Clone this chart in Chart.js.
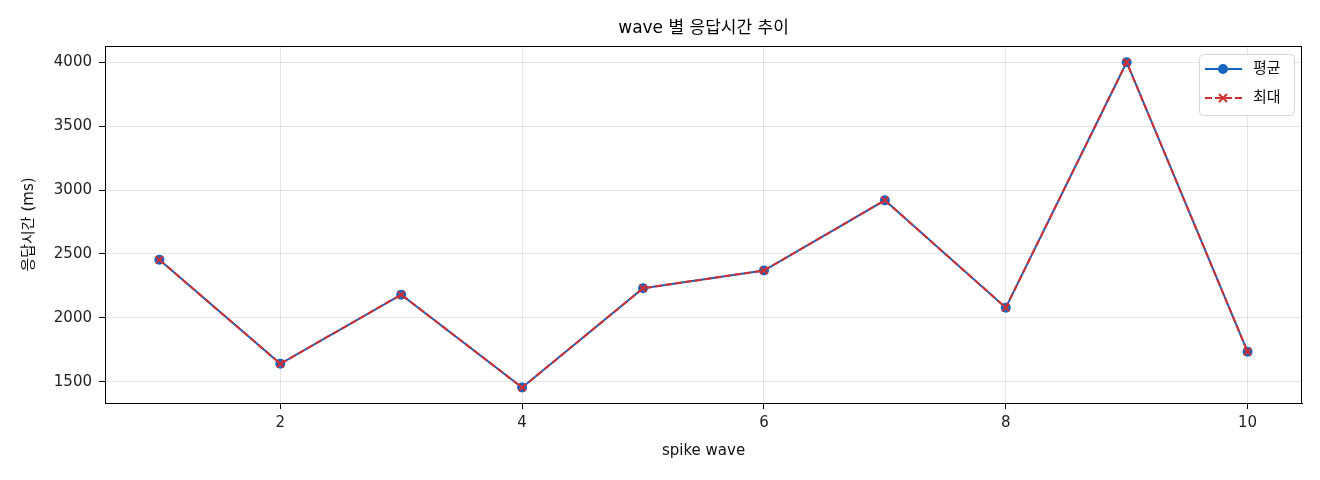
<!DOCTYPE html>
<html>
<head>
<meta charset="utf-8">
<script src="https://cdn.jsdelivr.net/npm/chart.js@4/dist/chart.umd.min.js"></script>
<style>
  html, body { margin: 0; padding: 0; background: #fff; }
  #wrap { width: 1320px; height: 480px; }
</style>
</head>
<body>
<div id="wrap"><canvas id="chart" width="1320" height="480"></canvas></div>
<script>
const waves = [1, 2, 3, 4, 5, 6, 7, 8, 9, 10];
const avgMs = [2454, 1640, 2181, 1454, 2231, 2370, 2919, 2079, 4000, 1734];
const maxMs = [2454, 1640, 2181, 1454, 2231, 2370, 2919, 2079, 4000, 1734];
const xTicks = [2, 4, 6, 8, 10];
const yTicks = [1500, 2000, 2500, 3000, 3500, 4000];
const chartTitle = "wave 별 응답시간 추이";

const FONT = "'DejaVu Sans', 'Noto Sans CJK KR', sans-serif";
const blue = "#1565c0";
const red = "#d32f2f";

const toPoints = (vals) => waves.map((w, i) => ({ x: w, y: vals[i] }));

// title centred over the plot, black frame, legend box in the top right corner
const framePlugin = {
  id: "frame",
  afterDraw(chart) {
    const { ctx, chartArea: a } = chart;
    ctx.save();
    ctx.fillStyle = "#000";
    ctx.font = "17px " + FONT;
    ctx.textAlign = "center";
    ctx.textBaseline = "middle";
    ctx.fillText(chartTitle, (a.left + a.right) / 2, 29);

    ctx.strokeStyle = "#000";
    ctx.lineWidth = 1;
    ctx.strokeRect(Math.round(a.left) + 0.5, Math.round(a.top) + 0.5,
      Math.round(a.right - a.left) - 1, Math.round(a.bottom - a.top));

    // legend
    const w = 95, h = 61;
    const bx = a.right - 8 - w, by = a.top + 8;
    ctx.beginPath();
    ctx.roundRect(bx + 0.5, by + 0.5, w, h, 4);
    ctx.fillStyle = "rgba(255,255,255,0.85)";
    ctx.fill();
    ctx.strokeStyle = "#d6d6d6";
    ctx.stroke();

    ctx.textAlign = "left";
    chart.data.datasets.forEach((ds, i) => {
      const y = by + 15 + i * 29;
      const cx = bx + 24;
      ctx.save();
      ctx.strokeStyle = ds.borderColor;
      ctx.lineWidth = ds.borderWidth;
      ctx.setLineDash(ds.borderDash || []);
      ctx.beginPath();
      ctx.moveTo(bx + 6, y);
      ctx.lineTo(bx + 43, y);
      ctx.stroke();
      ctx.setLineDash([]);
      ctx.strokeStyle = ds.pointBorderColor;
      ctx.fillStyle = ds.pointBackgroundColor;
      ctx.lineWidth = ds.pointBorderWidth;
      ctx.beginPath();
      const r = ds.pointRadius;
      if (ds.pointStyle === "circle") {
        ctx.arc(cx, y, r, 0, Math.PI * 2);
        ctx.fill();
      } else {
        ctx.moveTo(cx - r * 0.8, y - r * 0.8); ctx.lineTo(cx + r * 0.8, y + r * 0.8);
        ctx.moveTo(cx - r * 0.8, y + r * 0.8); ctx.lineTo(cx + r * 0.8, y - r * 0.8);
        ctx.stroke();
      }
      ctx.restore();
      ctx.fillStyle = "#111";
      ctx.font = "15px " + FONT;
      ctx.textBaseline = "middle";
      ctx.fillText(ds.label, bx + 54, y);
    });
    ctx.restore();
  }
};

new Chart(document.getElementById("chart"), {
  type: "line",
  data: {
    datasets: [
      {
        label: "평균",
        data: toPoints(avgMs),
        order: 1,
        borderColor: blue,
        backgroundColor: blue,
        borderWidth: 2,
        pointStyle: "circle",
        pointRadius: 5,
        pointBorderWidth: 0,
        pointBackgroundColor: blue,
        pointBorderColor: blue,
        tension: 0
      },
      {
        label: "최대",
        data: toPoints(maxMs),
        order: 0,
        borderColor: red,
        backgroundColor: red,
        borderWidth: 2,
        borderDash: [7, 3],
        pointStyle: "crossRot",
        pointRadius: 5,
        pointBorderWidth: 2,
        pointBackgroundColor: red,
        pointBorderColor: red,
        tension: 0
      }
    ]
  },
  options: {
    responsive: false,
    devicePixelRatio: 1,
    animation: false,
    layout: { padding: { left: 0, right: 18, top: 46, bottom: 0 } },
    plugins: {
      legend: { display: false },
      tooltip: { enabled: false },
      title: { display: false }
    },
    scales: {
      x: {
        type: "linear",
        min: 0.55,
        max: 10.45,
        afterFit: (s) => { s.height = 77; },
        afterBuildTicks: (s) => { s.ticks = xTicks.map(v => ({ value: v })); },
        grid: { color: "rgba(0,0,0,0.1)", tickColor: "#000", tickLength: 6, drawTicks: true },
        border: { display: true, color: "#000" },
        ticks: {
          color: "#222", padding: 5, maxRotation: 0,
          font: { family: FONT, size: 15 },
          callback: (v) => String(v)
        },
        title: {
          display: true,
          text: "spike wave",
          color: "#111",
          padding: 20,
          font: { family: FONT, size: 15 }
        }
      },
      y: {
        min: 1333,
        max: 4127,
        afterFit: (s) => { s.width = 105; },
        afterBuildTicks: (s) => { s.ticks = yTicks.map(v => ({ value: v })); },
        grid: { color: "rgba(0,0,0,0.1)", tickColor: "#000", tickLength: 6, drawTicks: true },
        border: { display: true, color: "#000" },
        ticks: {
          color: "#222", padding: 7,
          font: { family: FONT, size: 15 },
          callback: (v) => String(v)
        },
        title: {
          display: true,
          text: "응답시간 (ms)",
          color: "#111",
          padding: 20,
          font: { family: FONT, size: 15 }
        }
      }
    }
  },
  plugins: [framePlugin]
});
</script>
</body>
</html>
